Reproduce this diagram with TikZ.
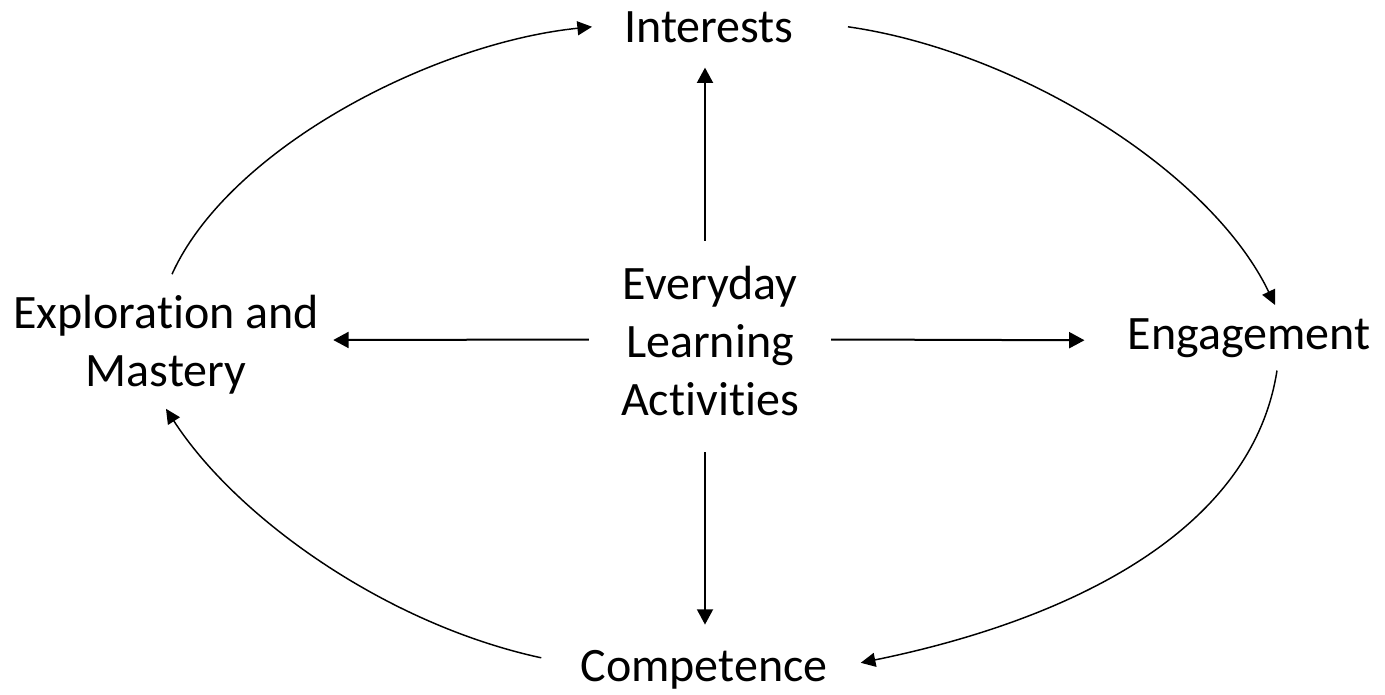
\documentclass[tikz,border=0pt]{standalone}
\usepackage{fontspec}
\setmainfont{Carlito}[Ligatures={NoCommon}]
\usetikzlibrary{arrows.meta}
\begin{document}
\begin{tikzpicture}[x=0.75pt,y=-0.75pt,
 lbl/.style={font=\fontsize{36}{43.5}\selectfont, inner sep=0pt, align=center},
 straightconn/.style={line width=1.5pt, -{Triangle[length=11.5pt,width=12pt]}},
 curveconn/.style={line width=1.1pt, -{Triangle[length=11pt,width=10.5pt]}}]
\useasboundingbox (0,0) rectangle (1385,694);
\node[lbl,anchor=base] (int) at (709,42) {Interests};
\node[lbl,anchor=base] (eng) at (1249,349) {Engagement};
\node[lbl,anchor=base] (comp) at (704,681) {Competence};
\node[lbl] (expl) at (166,345) {Exploration and\\Mastery};
\node[lbl] (act) at (710,341) {Everyday\\Learning\\Activities};
% straight connectors from the centre
\draw[straightconn] ([shift={(-5,-25)}]act.north) -- ([shift={(-4,25)}]int.south);
\draw[straightconn] ([shift={(-5,36)}]act.south) -- ([shift={(1,-25)}]comp.north);
\draw[straightconn] ([shift={(-32,-1.5)}]act.west) -- ([shift={(14,-5)}]expl.east);
\draw[straightconn] ([shift={(32,-1.5)}]act.east) -- ([shift={(-43,2.5)}]eng.west);
% cycle
\draw[curveconn] ([shift={(6,-21)}]expl.north) .. controls (229,148) and (433,43) .. ([shift={(-32,0)}]int.west);
\draw[curveconn] ([shift={(54,0)}]int.east) .. controls (1017,51) and (1210,170) .. ([shift={(26,-13)}]eng.north);
\draw[curveconn] ([shift={(28,13)}]eng.south) .. controls (1251,538) and (1056,623) .. ([shift={(33,-6.5)}]comp.east);
\draw[curveconn] ([shift={(-39,-11.5)}]comp.west) .. controls (385,624) and (236,517) .. ([shift={(0,14)}]expl.south);
\end{tikzpicture}
\end{document}
